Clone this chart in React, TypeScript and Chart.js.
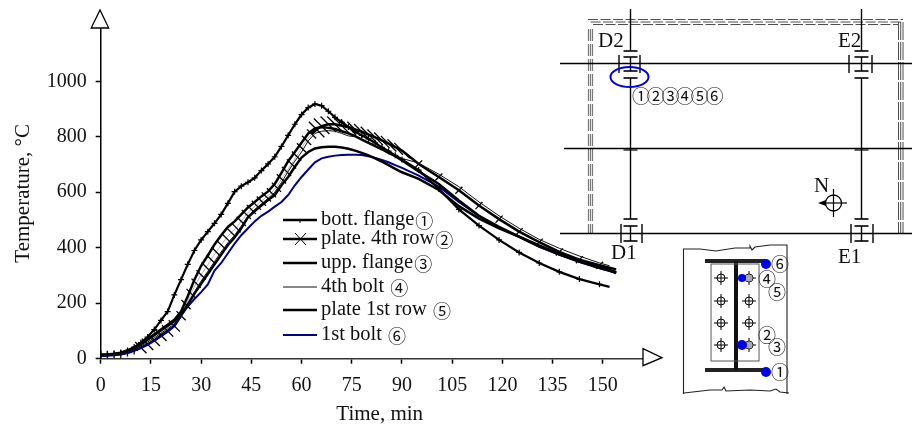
import React, { useEffect, useRef } from "react";
import { Chart, registerables } from "chart.js";

Chart.register(...registerables);

const timeMin = [0,2,4,6,8,10,12,14,16,18,20,22,24,26,28,30,32,34,36,38,40,42,44,46,48,50,52,54,56,58,60,62,64,66,68,70,72,74,76,78,80,82,84,86,88,90,95,101,107,113,119,125,131,137,143,149,152,154];
const plate4Time = [0,2,4,6,8,10,12,14,16,18,20,22,24,25.5,27,28.5,30,31.5,33,34.5,36,37.5,39,40.5,42,43.5,45,46.5,48,49.5,51,52.5,54,55.5,57,58.5,60,61.5,63,64.5,66,68,70,72,74,76,78,80,82,84,86,88,90,95,101,107,113,119,125,131,137,143,149,152,154];

const bottFlange = [15,16,18,22,30,42,58,78,105,138,170,230,285,340,390,428,458,488,520,560,602,622,636,652,678,702,728,765,805,845,880,905,918,912,892,870,852,835,818,805,792,778,762,748,733,718,680,612,538,480,428,383,345,313,287,268,259,null];
const plate4thRow = [14,14,15,17,22,30,40,52,66,84,100,118,155,195,235,272,302,330,357,385,410,435,455,472,495,520,538,553,568,583,598,618,648,675,702,730,760,787,810,826,838,845,845,840,834,826,818,808,798,787,775,763,750,702,655,607,552,503,458,420,385,357,337,328,322];
const uppFlange = [12,13,15,20,28,38,52,68,85,102,118,135,160,195,235,270,305,340,375,410,437,470,510,532,552,572,590,625,655,692,725,745,758,762,764,764,761,757,750,742,733,722,710,698,684,672,648,608,550,505,470,440,408,378,352,330,320,312];
const bolt4th = [11,12,14,18,25,34,46,60,75,92,108,125,150,190,240,280,315,350,385,418,445,478,515,538,558,578,600,635,675,712,745,785,812,820,822,820,812,803,800,790,778,766,755,745,733,722,705,665,620,565,515,470,430,398,370,345,335,null];
const plate1stRow = [13,14,16,21,29,40,54,70,88,105,122,140,170,225,285,335,372,412,445,475,495,520,545,565,585,603,630,670,712,745,778,812,830,835,832,828,820,812,802,790,778,766,755,742,730,715,675,630,570,515,475,440,405,375,350,328,318,310];
const bolt1st = [10,11,12,15,20,28,38,50,65,80,97,118,155,188,215,240,268,318,345,380,415,445,470,495,515,530,548,565,590,625,655,682,708,722,728,732,734,735,735,734,730,724,716,708,698,688,660,620,565,515,472,438,403,375,348,326,316,308];

const seriesNames = ["bott. flange", "plate. 4th row", "upp. flange", "4th bolt ", "plate 1st row ", "1st bolt "];
const seriesMarks = ["①", "②", "③", "④", "⑤", "⑥"];
const xTicks = [0,15,30,45,60,75,90,105,120,135,150];
const yTicks = [0,200,400,600,800,1000];
const bayLabels = ["D2", "E2", "D1", "E1"];
const NAVY = "#00008b";
const BLUE = "#0000e6";
const SERIF = '"Liberation Serif", "Times New Roman", serif';
const CIRCLE_FONT = '"Noto Sans CJK JP", "DejaVu Sans", sans-serif';

const toXY = (vals: (number | null)[], times: number[] = timeMin) => times.map((t, i) => ({ x: t, y: vals[i] }));
const tOf = (c: any) => (c.raw ? c.raw.x : 0);

function line(ctx: any, pts: number[][], w = 1, color = "#000", dash: number[] = []) {
  ctx.save();
  ctx.beginPath();
  ctx.strokeStyle = color;
  ctx.lineWidth = w;
  ctx.setLineDash(dash);
  pts.forEach((p, i) => (i ? ctx.lineTo(p[0], p[1]) : ctx.moveTo(p[0], p[1])));
  ctx.stroke();
  ctx.restore();
}

function disc(ctx: any, x: number, y: number, r: number, fill: string) {
  ctx.beginPath();
  ctx.fillStyle = fill;
  ctx.arc(x, y, r, 0, Math.PI * 2);
  ctx.fill();
}

function circled(ctx: any, s: string, x: number, y: number) {
  ctx.save();
  ctx.font = `18px ${CIRCLE_FONT}`;
  ctx.fillStyle = "#111";
  ctx.textAlign = "center";
  ctx.textBaseline = "middle";
  ctx.fillText(s, x, y);
  ctx.restore();
}

function label(ctx: any, s: string, x: number, y: number) {
  ctx.save();
  ctx.font = `21px ${SERIF}`;
  ctx.fillStyle = "#111";
  ctx.textAlign = "left";
  ctx.textBaseline = "alphabetic";
  ctx.fillText(s, x, y);
  ctx.restore();
}

function columnMark(ctx: any, cx: number, top: number, y1: number, y2: number, bars: number[]) {
  line(ctx, [[cx - 7, top], [cx + 7, top]], 1.6);
  line(ctx, [[cx - 7, y1], [cx + 7, y1]], 1.6);
  line(ctx, [[cx - 7, y2], [cx + 7, y2]], 1.6);
  line(ctx, [[cx, y1], [cx, y2]], 1.4);
  bars.forEach((b) => line(ctx, [[b, y1 - 2], [b, y2 + 2]], 1.4));
}

const annotations = {
  id: "annotations",
  afterDraw(chart: any) {
    const { ctx, chartArea: a } = chart;
    ctx.save();
    // axis arrowheads
    ctx.fillStyle = "#fff";
    ctx.strokeStyle = "#000";
    ctx.lineWidth = 1.3;
    ctx.beginPath();
    ctx.moveTo(a.left - 9.5, a.top);
    ctx.lineTo(a.left + 8, a.top);
    ctx.lineTo(a.left - 0.7, a.top - 18);
    ctx.closePath();
    ctx.fill();
    ctx.stroke();
    ctx.beginPath();
    ctx.moveTo(a.right, a.bottom - 10);
    ctx.lineTo(a.right + 19, a.bottom - 1);
    ctx.lineTo(a.right, a.bottom + 7);
    ctx.closePath();
    ctx.fill();
    ctx.stroke();

    // legend drawn from the datasets
    const rows = [220, 239, 263, 287, 310, 335];
    chart.data.datasets.forEach((d: any, i: number) => {
      const y = rows[i];
      line(ctx, [[283, y], [317, y]], d.legendWidth, d.borderColor);
      if (i === 0) line(ctx, [[300, y], [300, y + 3]], 1);
      if (i === 1) {
        line(ctx, [[295, y - 6], [306, y + 6]], 1);
        line(ctx, [[295, y + 6], [306, y - 6]], 1);
      }
      ctx.font = `20.5px ${SERIF}`;
      ctx.fillStyle = "#111";
      ctx.textAlign = "left";
      ctx.textBaseline = "middle";
      ctx.fillText(seriesNames[i], 321, y);
      const w = ctx.measureText(seriesNames[i]).width;
      circled(ctx, seriesMarks[i], 321 + w + 10, y + 1);
    });

    // plan: walls
    [588.5, 590.5, 592.5].forEach((x) => line(ctx, [[x, 29], [x, 233]], 1.2, "#777", [12, 3]));
    [19.5, 22, 24.5].forEach((y, i) => line(ctx, [[588 + i * 2.5, y], [903 - i * 2.5, y]], 0.8, "#222", [10, 2.5]));
    [898.5, 900.7, 903].forEach((x) => line(ctx, [[x, 22], [x, 233]], 0.8, "#222", [18, 2]));
    // plan: beams
    line(ctx, [[560, 63.5], [912, 63.5]], 1.4);
    line(ctx, [[564, 148.5], [912, 148.5]], 1.7);
    line(ctx, [[560, 233.5], [912, 233.5]], 1.4);
    line(ctx, [[630.5, 9], [630.5, 51]], 1.4);
    line(ctx, [[630.5, 78], [630.5, 219]], 1.4);
    line(ctx, [[861.5, 9], [861.5, 51]], 1.4);
    line(ctx, [[861.5, 78], [861.5, 219]], 1.4);
    columnMark(ctx, 630.5, 51, 57, 71, [619, 640]);
    line(ctx, [[623.5, 78], [637.5, 78]], 1.6);
    columnMark(ctx, 861.5, 51, 57, 71, [849, 872]);
    line(ctx, [[854.5, 78], [868.5, 78]], 1.6);
    columnMark(ctx, 630.5, 219, 226, 241, [621, 642]);
    columnMark(ctx, 861.5, 219, 226, 241, [851, 873]);
    line(ctx, [[623.5, 150], [637.5, 150]], 1.2);
    line(ctx, [[854.5, 150], [868.5, 150]], 1.2);
    // plan: detail ellipse
    ctx.beginPath();
    ctx.strokeStyle = BLUE;
    ctx.lineWidth = 2;
    ctx.ellipse(629.5, 77, 19, 10, 0, 0, Math.PI * 2);
    ctx.stroke();
    seriesMarks.forEach((m, i) => circled(ctx, m, 641 + i * 14.7, 96.5));
    label(ctx, bayLabels[0], 598, 47);
    label(ctx, bayLabels[1], 838, 47);
    label(ctx, bayLabels[2], 611, 259);
    label(ctx, bayLabels[3], 838, 263);
    label(ctx, "N", 814, 192);
    // north marker
    ctx.beginPath();
    ctx.strokeStyle = "#000";
    ctx.lineWidth = 1.3;
    ctx.arc(833.5, 203, 8, 0, Math.PI * 2);
    ctx.stroke();
    line(ctx, [[820, 203], [847, 203]], 1.2);
    line(ctx, [[833.5, 189], [833.5, 217]], 1.2);
    ctx.beginPath();
    ctx.fillStyle = "#000";
    ctx.moveTo(818, 203);
    ctx.lineTo(826, 200);
    ctx.lineTo(826, 206);
    ctx.closePath();
    ctx.fill();

    // section
    line(ctx, [[683.5, 394], [683.5, 249], [700, 249], [716, 251], [735, 248], [750, 248], [750, 246], [752, 250], [755, 247], [770, 245], [787, 245], [787, 394]], 1.1, "#222");
    line(ctx, [[684, 393], [710, 390], [722, 390], [724, 387], [726, 391], [750, 390], [770, 391], [776, 389], [780, 392], [789, 393]], 1.1, "#222");
    line(ctx, [[705, 261], [765, 261]], 4, "#222");
    line(ctx, [[705, 370], [765, 370]], 4, "#222");
    line(ctx, [[736, 261], [736, 370]], 4, "#111");
    ctx.strokeStyle = "#555";
    ctx.lineWidth = 1;
    ctx.strokeRect(711, 264, 48, 97);
    [721, 749].forEach((x) =>
      [278, 301, 323, 345].forEach((y) => {
        ctx.beginPath();
        ctx.strokeStyle = "#000";
        ctx.lineWidth = 1;
        ctx.arc(x, y, 4, 0, Math.PI * 2);
        ctx.stroke();
        line(ctx, [[x - 7, y], [x + 7, y]], 1);
        line(ctx, [[x, y - 7], [x, y + 7]], 1);
      })
    );
    disc(ctx, 749, 278, 3.5, "#aaa");
    disc(ctx, 749, 345, 3.5, "#aaa");
    disc(ctx, 766, 264, 5, BLUE);
    disc(ctx, 742, 278, 4, BLUE);
    disc(ctx, 742, 345, 5, BLUE);
    disc(ctx, 766, 372, 5, BLUE);
    circled(ctx, "⑥", 780, 264);
    circled(ctx, "④", 767, 279);
    circled(ctx, "⑤", 777, 292);
    circled(ctx, "②", 767, 335);
    circled(ctx, "③", 777, 347);
    circled(ctx, "①", 780, 372);
    ctx.restore();
  },
};

export default function App() {
  const ref = useRef<HTMLCanvasElement>(null);
  useEffect(() => {
    const font = { family: SERIF, size: 20 };
    const titleFont = { family: SERIF, size: 21 };
    const chart = new Chart(ref.current!, {
      type: "line",
      data: {
        datasets: [
          { label: seriesNames[0] + seriesMarks[0], data: toXY(bottFlange), borderColor: "#000", borderWidth: 2.2, legendWidth: 2.5, pointStyle: "cross", pointRadius: (c: any) => (tOf(c) > 150 ? 0 : 3), pointBorderWidth: 1.2, pointBorderColor: "#000", order: 2 },
          {
            label: seriesNames[1] + seriesMarks[1],
            data: toXY(plate4thRow, plate4Time),
            borderColor: "#000",
            borderWidth: 2.5,
            legendWidth: 2.5,
            segment: { borderWidth: (s: any) => (s.p0.parsed.x >= 24 && s.p0.parsed.x < 62 ? 0.3 : 2.5) },
            pointStyle: (c: any) => (tOf(c) < 12 ? "crossRot" : "line"),
            pointRotation: (c: any) => (tOf(c) < 93 ? 45 : -45),
            pointRadius: (c: any) => {
              const t = tOf(c);
              if (t > 150) return 0;
              if (t < 12) return 4;
              if (t < 24) return 8;
              if (t < 64) return 6.5;
              if (t < 93) return 11;
              return 5;
            },
            pointBorderWidth: 1.3,
            pointBorderColor: "#000",
            order: 6,
          },
          { label: seriesNames[2] + seriesMarks[2], data: toXY(uppFlange), borderColor: "#000", borderWidth: 2.5, legendWidth: 2.5, pointRadius: 0, order: 3 },
          { label: seriesNames[3] + seriesMarks[3], data: toXY(bolt4th), borderColor: "#111", borderWidth: 1, legendWidth: 1, pointRadius: 0, order: 1 },
          { label: seriesNames[4] + seriesMarks[4], data: toXY(plate1stRow), borderColor: "#000", borderWidth: 2.5, legendWidth: 2.5, pointRadius: 0, order: 4 },
          { label: seriesNames[5] + seriesMarks[5], data: toXY(bolt1st), borderColor: NAVY, borderWidth: 2, legendWidth: 2, pointRadius: 0, order: 5 },
        ] as any,
      },
      options: {
        responsive: false,
        animation: false,
        layout: { padding: { top: 28, right: 269, left: 0, bottom: 0 } },
        plugins: { legend: { display: false }, tooltip: { enabled: false } },
        scales: {
          x: {
            type: "linear",
            min: 0,
            max: 162,
            afterBuildTicks: (s: any) => { s.ticks = xTicks.map((value) => ({ value })); },
            afterFit: (s: any) => { s.height = 70.3; },
            border: { color: "#333", width: 1.5 },
            grid: { drawOnChartArea: false, drawTicks: true, tickLength: 5, tickColor: "#000", tickWidth: 1.5 },
            ticks: { font, color: "#111", padding: 10, maxRotation: 0, autoSkip: false },
            title: { display: true, text: "\u00A0\u00A0\u00A0Time, min", font: titleFont, color: "#111", padding: { top: 0, bottom: 2 } },
          },
          y: {
            min: 0,
            max: 1192,
            afterBuildTicks: (s: any) => { s.ticks = yTicks.map((value) => ({ value })); },
            afterFit: (s: any) => { s.width = 100.7; },
            border: { color: "#000", width: 1.5 },
            grid: { drawOnChartArea: false, drawTicks: true, tickLength: 5, tickColor: "#000", tickWidth: 1.5 },
            ticks: { font, color: "#111", padding: 9, callback: (v: any) => String(v) },
            title: { display: true, text: "Temperature, °C", font: titleFont, color: "#111", padding: { top: 11, bottom: 0 } },
          },
        },
      },
      plugins: [annotations],
    } as any);
    return () => chart.destroy();
  }, []);
  return <canvas ref={ref} width={912} height={429} style={{ position: "absolute", left: 0, top: 0, display: "block" }} />;
}
